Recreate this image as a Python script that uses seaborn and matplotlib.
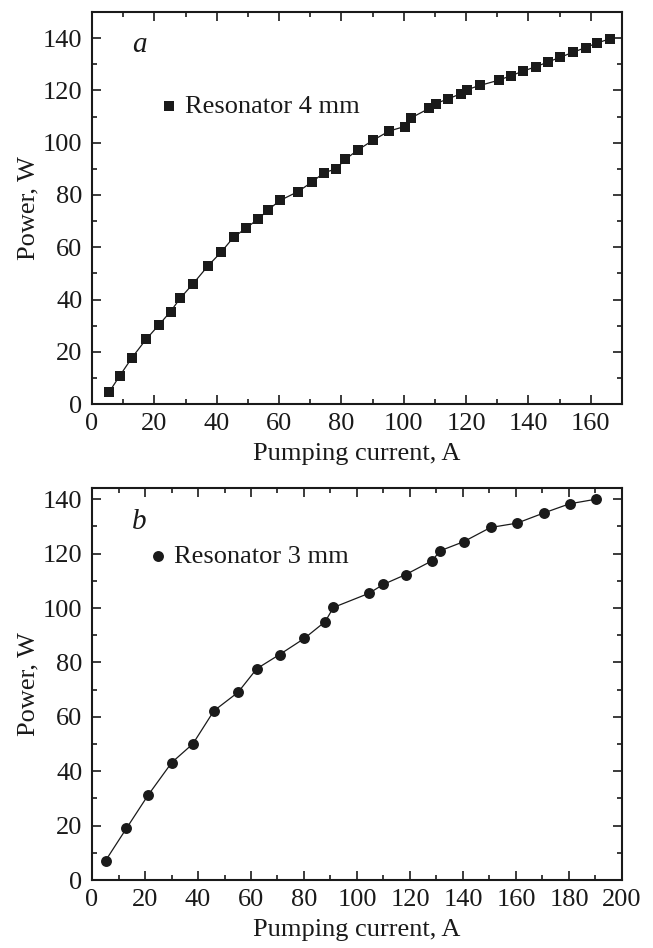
import matplotlib
matplotlib.use("Agg")
import matplotlib.pyplot as plt
import seaborn as sns
import pandas as pd
from matplotlib.ticker import MultipleLocator

# Panel a: resonator 4 mm
current_a = [5.5, 8.9, 12.8, 17.3, 21.4, 25.2, 28.3, 32.4, 37.3, 41.4, 45.4, 49.4,
             53.4, 56.5, 60.3, 66.1, 70.5, 74.4, 78.3, 81.2, 85.4, 90.2, 95.4, 100.3,
             102.2, 108.1, 110.4, 114.2, 118.5, 120.3, 124.4, 130.4, 134.3, 138.3,
             142.4, 146.3, 150.2, 154.3, 158.3, 162.1, 166.3]
power_a = [4.6, 10.8, 17.7, 24.7, 30.2, 35.4, 40.5, 46.0, 53.0, 58.1, 63.8, 67.3,
           70.9, 74.3, 77.9, 81.3, 84.9, 88.5, 90.0, 93.6, 97.3, 101.0, 104.5, 106.2,
           109.4, 113.1, 115.0, 116.8, 118.8, 120.3, 121.9, 123.9, 125.6, 127.4,
           129.1, 130.9, 132.7, 134.6, 136.4, 138.2, 139.8]

# Panel b: resonator 3 mm
current_b = [5.1, 13.0, 21.1, 30.1, 38.1, 46.0, 55.1, 62.2, 70.8, 80.1, 88.0, 91.1,
             104.5, 110.0, 118.4, 128.4, 131.3, 140.3, 150.4, 160.4, 170.4, 180.2, 190.2]
power_b = [7.1, 19.0, 31.1, 43.2, 50.1, 62.2, 69.0, 77.7, 82.9, 88.8, 95.0, 100.2,
           105.4, 108.7, 112.3, 117.4, 121.0, 124.4, 129.6, 131.2, 134.9, 138.3, 140.0]

label_a = "Resonator 4 mm"
label_b = "Resonator 3 mm"
xlabel = "Pumping current, A"
ylabel = "Power, W"

sns.set_theme(style="ticks")
plt.rcParams['font.family'] = ['Liberation Serif', 'DejaVu Serif']
plt.rcParams['mathtext.fontset'] = 'stix'

fig = plt.figure(figsize=(6.53, 9.48), dpi=100)
ax1 = fig.add_axes([0.1409, 0.5738, 0.8116, 0.4135])
ax2 = fig.add_axes([0.1409, 0.0717, 0.8116, 0.4132])

dfa = pd.DataFrame({"x": current_a, "y": power_a})
dfb = pd.DataFrame({"x": current_b, "y": power_b})

ink = "#1a1a1a"

def panel(ax, df, marker, ms, label, letter, xlim, ylim, legend_xy):
    sns.lineplot(data=df, x="x", y="y", ax=ax, color=ink, linewidth=0.9,
                 sort=False, estimator=None, legend=False)
    sns.scatterplot(data=df, x="x", y="y", ax=ax, marker=marker, s=ms, color=ink,
                    edgecolor=ink, linewidth=0, label=label, zorder=3)
    ax.set_xlim(*xlim)
    ax.set_ylim(*ylim)
    ax.xaxis.set_major_locator(MultipleLocator(20))
    ax.xaxis.set_minor_locator(MultipleLocator(10))
    ax.yaxis.set_major_locator(MultipleLocator(20))
    ax.yaxis.set_minor_locator(MultipleLocator(10))
    ax.tick_params(which="both", direction="in", top=True, right=True,
                   width=1.2, colors=ink, labelsize=19, labelcolor=ink)
    ax.tick_params(which="major", length=6.5)
    ax.tick_params(which="minor", length=3.6)
    ax.tick_params(axis="y", which="major", pad=7)
    ax.tick_params(axis="x", which="major", pad=6.5)
    for sp in ax.spines.values():
        sp.set_linewidth(1.5)
        sp.set_color(ink)
    ax.set_xlabel(xlabel, fontsize=19, color=ink, labelpad=6)
    ax.set_ylabel(ylabel, fontsize=19, color=ink, labelpad=2)
    ax.text(0.09, 0.915, letter, transform=ax.transAxes, fontsize=21,
            style="italic", color=ink, ha="center", va="center")
    leg = ax.legend(loc="center left", bbox_to_anchor=legend_xy, frameon=False,
                    fontsize=19, handlelength=0.6, handletextpad=0.3,
                    borderpad=0, borderaxespad=0, markerscale=1.0)
    for t in leg.get_texts():
        t.set_color(ink)

panel(ax1, dfa, "s", 48, label_a, "a", (0, 170), (0, 150), (0.13, 0.76))
panel(ax2, dfb, "o", 62, label_b, "b", (0, 200), (0, 144), (0.11, 0.826))

fig.savefig("out.png", dpi=100)
